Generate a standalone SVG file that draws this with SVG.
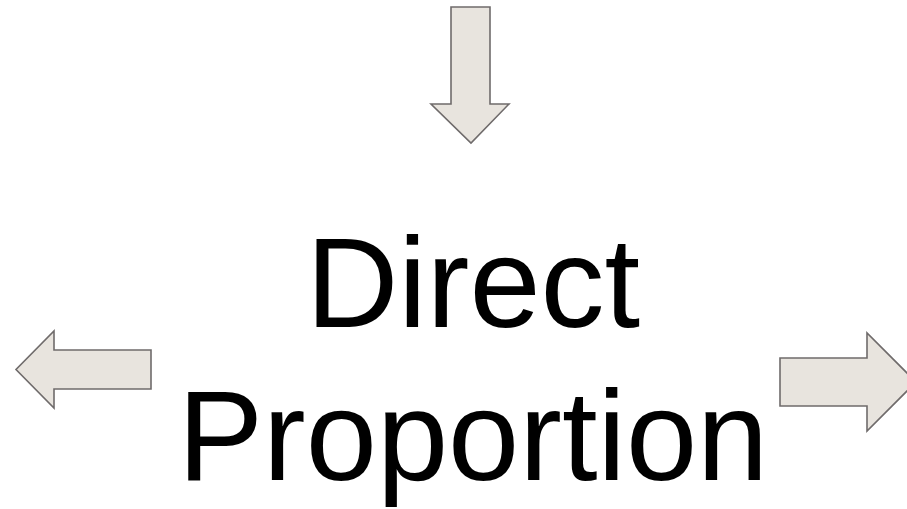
<svg xmlns="http://www.w3.org/2000/svg" width="907" height="509" viewBox="0 0 907 509">
<style>
.arrow{fill:#e8e4de;stroke:#6f6b6b;stroke-width:1.6;stroke-linejoin:miter}
.label{font-family:"Liberation Sans",Arial,sans-serif;font-size:128px;fill:#000;text-anchor:middle}
</style>
<rect width="907" height="509" fill="#fff"/>
<g id="connectors">
<polygon id="arrow-down" class="arrow" points="451,7 490,7 490,104 509,104 471,143 431,104 451,104"/>
<polygon id="arrow-left" class="arrow" points="151,350 151,389 54,389 54,408 16,369.5 54,331 54,350"/>
<polygon id="arrow-right" class="arrow" points="780,358 867,358 867,333 916,382 867,431 867,406 780,406"/>
</g>
<g id="node-title">
<text class="label" x="473" y="327">Direct</text>
<text class="label" x="473" y="480">Proportion</text>
</g>
</svg>
